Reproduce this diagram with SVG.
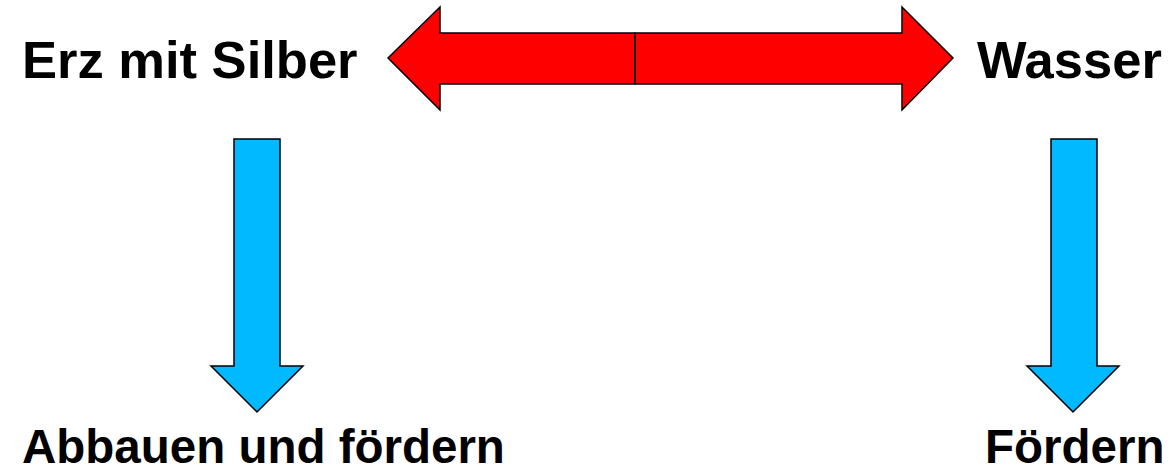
<svg xmlns="http://www.w3.org/2000/svg" width="1174" height="471" viewBox="0 0 1174 471">
<style>
.lbl{font-family:"Liberation Sans",Arial,sans-serif;font-weight:bold;fill:#000}
.red{fill:#ff0000;stroke:#000;stroke-width:1.5;stroke-linejoin:miter}
.blue{fill:#00b9ff;stroke:#000;stroke-width:1.5;stroke-linejoin:miter}
</style>
<rect width="1174" height="471" fill="#fff"/>
<g id="erz"><text class="lbl" x="22" y="78" font-size="52.5">Erz mit Silber</text></g>
<g id="wasser"><text class="lbl" x="977" y="78" font-size="52.5">Wasser</text></g>
<g id="abbauen"><text class="lbl" x="22" y="463" font-size="47.5">Abbauen und fördern</text></g>
<g id="foerdern"><text class="lbl" x="985" y="463" font-size="47.5">Fördern</text></g>
<g id="connectors">
<polygon class="red" points="635,33 440,33 440,7 388,58 440,110 440,84 635,84"/>
<polygon class="red" points="635,33 902,33 902,7 953,58 902,110 902,84 635,84"/>
<polygon class="blue" points="234,139 280,139 280,366 303,366 257,412 211,366 234,366"/>
<polygon class="blue" points="1051,139 1097,139 1097,366 1119,366 1073,412 1027,366 1051,366"/>
</g>
</svg>
